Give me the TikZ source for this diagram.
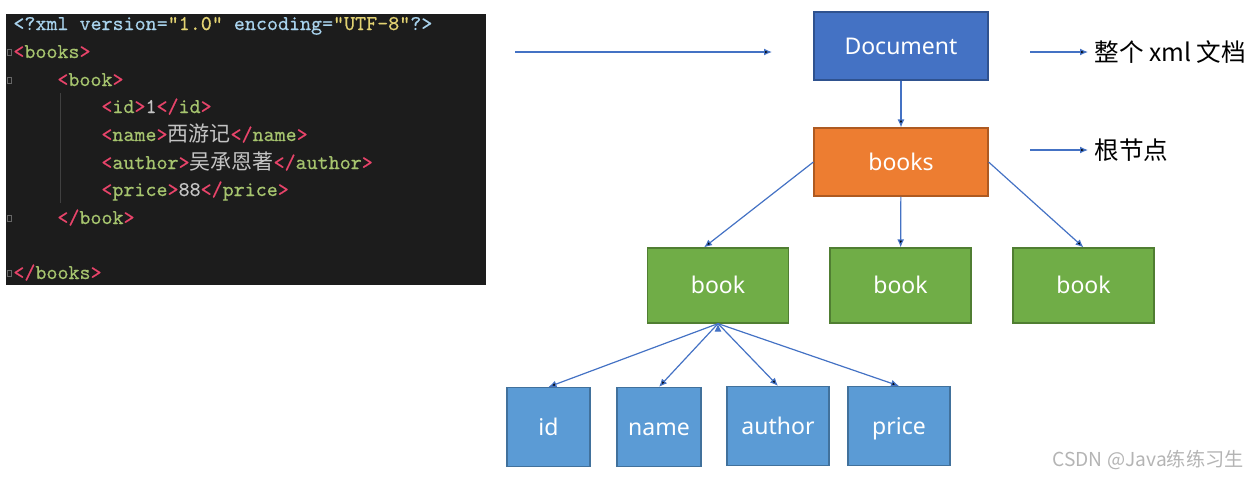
\documentclass[tikz,border=0pt]{standalone}
\usepackage{fontspec}
\setmainfont{Noto Sans}
\newfontfamily\codefont{Latin Modern Mono}[FakeBold=0.4]
\newfontfamily\cjk{Noto Sans CJK SC}
\usetikzlibrary{arrows.meta}
\definecolor{xmlbg}{HTML}{1C1C1C}
\definecolor{xmlpunct}{HTML}{E8446A}
\definecolor{xmltag}{HTML}{A6C46E}
\definecolor{xmlattr}{HTML}{A8D2EC}
\definecolor{xmlstr}{HTML}{E2D272}
\definecolor{xmltext}{HTML}{C4C4C4}
\definecolor{xmlguide}{HTML}{404040}
\definecolor{docblue}{HTML}{4472C4}
\definecolor{docblueline}{HTML}{2F528F}
\definecolor{rootorange}{HTML}{ED7D31}
\definecolor{rootorangeline}{HTML}{AE5A21}
\definecolor{bookgreen}{HTML}{70AD47}
\definecolor{bookgreenline}{HTML}{507E32}
\definecolor{leafblue}{HTML}{5B9BD5}
\definecolor{leafblueline}{HTML}{41719C}
\definecolor{wmgrey}{HTML}{B4B4B4}
\newcommand{\pu}[1]{\textcolor{xmlpunct}{#1}}
\newcommand{\tg}[1]{\textcolor{xmltag}{#1}}
\newcommand{\at}[1]{\textcolor{xmlattr}{#1}}
\newcommand{\st}[1]{\textcolor{xmlstr}{#1}}
\newcommand{\ztag}[1]{\pu{<}\tg{#1}\pu{>}}
\newcommand{\etag}[1]{\pu{</}\tg{#1}\pu{>}}
\begin{document}
\begin{tikzpicture}[x=0.5pt,y=-0.5pt]
\tikzstyle{box}=[rectangle, line width=0.6pt, text=white, text height=1.75ex, text depth=0.2ex, font=\fontsize{11.5}{13}\selectfont]
\tikzstyle{docbox}=[box, fill=docblue, draw=docblueline, minimum width=87pt, minimum height=34pt]
\tikzstyle{rootbox}=[box, fill=rootorange, draw=rootorangeline, minimum width=87pt, minimum height=34pt]
\tikzstyle{bookbox}=[box, fill=bookgreen, draw=bookgreenline, minimum width=70.5pt, minimum height=37.5pt]
\tikzstyle{leafbox}=[box, fill=leafblue, draw=leafblueline, minimum height=39.5pt]
\tikzstyle{connect}=[-{Latex[length=4pt,width=3.5pt]}, draw=docblue, line width=0.6pt]
\tikzstyle{codeline}=[anchor=base west, inner sep=0pt, font=\codefont\fontsize{10.5}{12}\selectfont, text=xmltext]
\tikzstyle{note}=[anchor=west, inner sep=3pt, font=\cjk\fontsize{12.3}{14}\selectfont]
\useasboundingbox (0,0) rectangle (1259,479);
% code panel
\fill[xmlbg] (6,14) rectangle (486,285);
\draw[xmlguide, line width=0.5pt] (60,93) -- (60,203);
\foreach \y in {52,80,218,273}
	\draw[gray!80!black, line width=0.4pt] (7,\y-3) rectangle (11,\y+3);
	\node[codeline] (code1) at (13,30) {\at{<?xml version=}\st{"1.0"} \at{encoding=}\st{"UTF-8"}\at{?>}};
	\node[codeline] (code2) at (13,58) {\ztag{books}};
	\node[codeline] (code3) at (57,86) {\ztag{book}};
	\node[codeline] (code4) at (101,113) {\ztag{id}1\etag{id}};
	\node[codeline] (code5) at (101,141) {\ztag{name}{\cjk 西游记}\etag{name}};
	\node[codeline] (code6) at (101,169) {\ztag{author}{\cjk 吴承恩著}\etag{author}};
	\node[codeline] (code7) at (101,196) {\ztag{price}88\etag{price}};
	\node[codeline] (code8) at (57,224) {\etag{book}};
	\node[codeline] (code9) at (13,279) {\etag{books}};
% tree
	\node[docbox] (doc) at (901,46) {Document};
	\node[rootbox] (books) at (901,162) {books};
	\node[bookbox] (book1) at (718,285.5) {book};
	\node[bookbox] (book2) at (900.5,285.5) {book};
	\node[bookbox] (book3) at (1083.5,285.5) {book};
	\node[leafbox, minimum width=41.5pt] (id) at (548.5,427) {id};
	\node[leafbox, minimum width=42pt] (name) at (659,427) {name};
	\node[leafbox, minimum width=51pt] (author) at (778,426) {author};
	\node[leafbox, minimum width=51pt] (price) at (899,426) {price};
	\node[note] (docnote) at (1088,52) {整个 xml 文档};
	\node[note] (rootnote) at (1088,150) {根节点};
	\node[anchor=east, inner sep=0pt, text=wmgrey, font=\cjk\fontsize{9.6}{11}\selectfont] (mark) at (1244,460) {CSDN @Java练练习生};
	\coordinate (codeout) at (515,52);
	\coordinate (docin) at (772,52);
	\coordinate (docnotein) at (1030,52);
	\coordinate (rootnotein) at (1030,150);
	
	\path[connect]
		(codeout) edge (docin)
		(docnotein) edge (docnote.west)
		(rootnotein) edge (rootnote.west)
		(doc) edge (books)
		(books.west) edge ([xshift=-7pt]book1.north)
		(books) edge (book2)
		(books.east) edge (book3.north)
		(book1.south) edge (id.north)
		(book1.south) edge (name.north)
		(book1.south) edge (author.north)
		(book1.south) edge (price.north);
\end{tikzpicture}
\end{document}
